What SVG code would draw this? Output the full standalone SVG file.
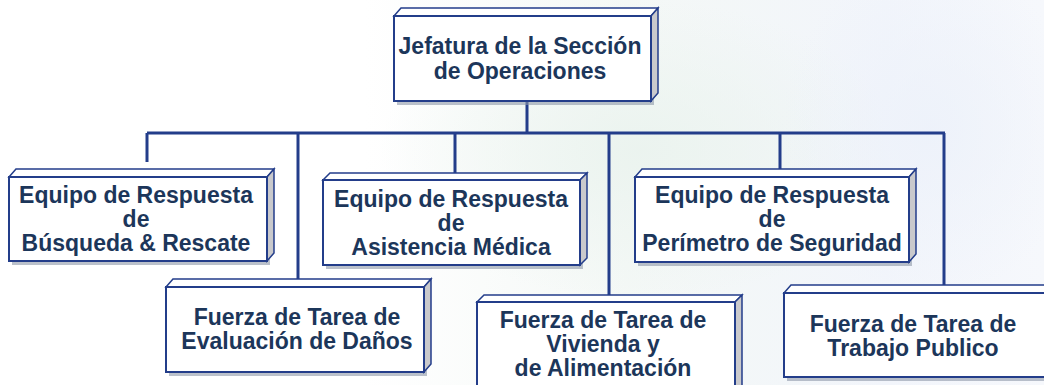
<svg xmlns="http://www.w3.org/2000/svg" width="1044" height="385" viewBox="0 0 1044 385">
<defs>
<linearGradient id="bg" x1="0" y1="0" x2="1" y2="0">
<stop offset="0" stop-color="#ffffff"/>
<stop offset="0.35" stop-color="#ffffff"/>
<stop offset="0.6" stop-color="#f4f8f6"/>
<stop offset="0.85" stop-color="#f2f5fb"/>
<stop offset="1" stop-color="#f6f8fc"/>
</linearGradient>
<radialGradient id="glow" cx="0.5" cy="0.5" r="0.5">
<stop offset="0" stop-color="#eaf3ee" stop-opacity="0.9"/>
<stop offset="1" stop-color="#eaf3ee" stop-opacity="0"/>
</radialGradient>
<radialGradient id="glow2" cx="0.5" cy="0.5" r="0.5">
<stop offset="0" stop-color="#ecf1fa" stop-opacity="0.8"/>
<stop offset="1" stop-color="#ecf1fa" stop-opacity="0"/>
</radialGradient>
<style>
.front{fill:#ffffff;stroke:#233d8a;stroke-width:2}
.top{fill:#ffffff;stroke:#233d8a;stroke-width:1.5}
.side{fill:#c9c9cc;stroke:#233d8a;stroke-width:1.5}
.shadow{fill:#8e97a8;opacity:0.6}
.lbl{font-family:"Liberation Sans",Arial,sans-serif;font-weight:bold;font-size:23px;fill:#1c365a;text-anchor:middle}
.conn{stroke:#233d8a;stroke-width:3;fill:none}
</style>
</defs>
<rect width="1044" height="385" fill="url(#bg)"/>
<ellipse cx="640" cy="150" rx="260" ry="150" fill="url(#glow)"/>
<ellipse cx="930" cy="130" rx="150" ry="170" fill="url(#glow2)"/>

<g id="connectors">
<path class="conn" d="M527 101 V133"/>
<path class="conn" d="M147 133 H945"/>
<path class="conn" d="M147 133 V162"/>
<path class="conn" d="M298 133 V280"/>
<path class="conn" d="M455 133 V173"/>
<path class="conn" d="M609 133 V296"/>
<path class="conn" d="M780 133 V170"/>
<path class="conn" d="M944 133 V286"/>
</g>

<g id="n-jefatura">
<rect class="shadow" x="397" y="19" width="257" height="86"/>
<polygon class="top" points="394,16 401,8 658,8 651,16"/>
<polygon class="side" points="651,16 658,8 658,93 651,101"/>
<rect class="front" x="394" y="16" width="257" height="85"/>
<text class="lbl" x="520" y="54">Jefatura de la Sección</text>
<text class="lbl" x="520" y="79">de Operaciones</text>
</g>

<g id="n-busqueda">
<rect class="shadow" x="12" y="180" width="258" height="85"/>
<polygon class="top" points="9,177 16,169 274,169 267,177"/>
<polygon class="side" points="267,177 274,169 274,253 267,261"/>
<rect class="front" x="9" y="177" width="258" height="84"/>
<text class="lbl" x="136" y="203">Equipo de Respuesta</text>
<text class="lbl" x="136" y="227">de</text>
<text class="lbl" x="136" y="251">Búsqueda &amp; Rescate</text>
</g>

<g id="n-asistencia">
<rect class="shadow" x="326" y="183" width="257" height="86"/>
<polygon class="top" points="323,180 330,173 587,173 580,180"/>
<polygon class="side" points="580,180 587,173 587,258 580,265"/>
<rect class="front" x="323" y="180" width="257" height="85"/>
<text class="lbl" x="451" y="207">Equipo de Respuesta</text>
<text class="lbl" x="451" y="231">de</text>
<text class="lbl" x="451" y="255">Asistencia Médica</text>
</g>

<g id="n-perimetro">
<rect class="shadow" x="638" y="180" width="274" height="86"/>
<polygon class="top" points="635,177 642,169 916,169 909,177"/>
<polygon class="side" points="909,177 916,169 916,254 909,262"/>
<rect class="front" x="635" y="177" width="274" height="85"/>
<text class="lbl" x="772" y="203">Equipo de Respuesta</text>
<text class="lbl" x="772" y="227">de</text>
<text class="lbl" x="772" y="251">Perímetro de Seguridad</text>
</g>

<g id="n-evaluacion">
<rect class="shadow" x="169" y="290" width="258" height="86"/>
<polygon class="top" points="166,287 173,279 431,279 424,287"/>
<polygon class="side" points="424,287 431,279 431,364 424,372"/>
<rect class="front" x="166" y="287" width="258" height="85"/>
<text class="lbl" x="297" y="325">Fuerza de Tarea de</text>
<text class="lbl" x="297" y="349">Evaluación de Daños</text>
</g>

<g id="n-vivienda">
<rect class="shadow" x="480" y="305" width="258" height="100"/>
<polygon class="top" points="477,302 484,295 742,295 735,302"/>
<polygon class="side" points="735,302 742,295 742,395 735,402"/>
<rect class="front" x="477" y="302" width="258" height="100"/>
<text class="lbl" x="603" y="328">Fuerza de Tarea de</text>
<text class="lbl" x="603" y="352">Vivienda y</text>
<text class="lbl" x="603" y="376">de Alimentación</text>
</g>

<g id="n-trabajo">
<rect class="shadow" x="787" y="296" width="280" height="85"/>
<polygon class="top" points="784,293 791,285 1071,285 1064,293"/>
<rect class="front" x="784" y="293" width="280" height="84"/>
<text class="lbl" x="913" y="332">Fuerza de Tarea de</text>
<text class="lbl" x="913" y="356">Trabajo Publico</text>
</g>
</svg>
